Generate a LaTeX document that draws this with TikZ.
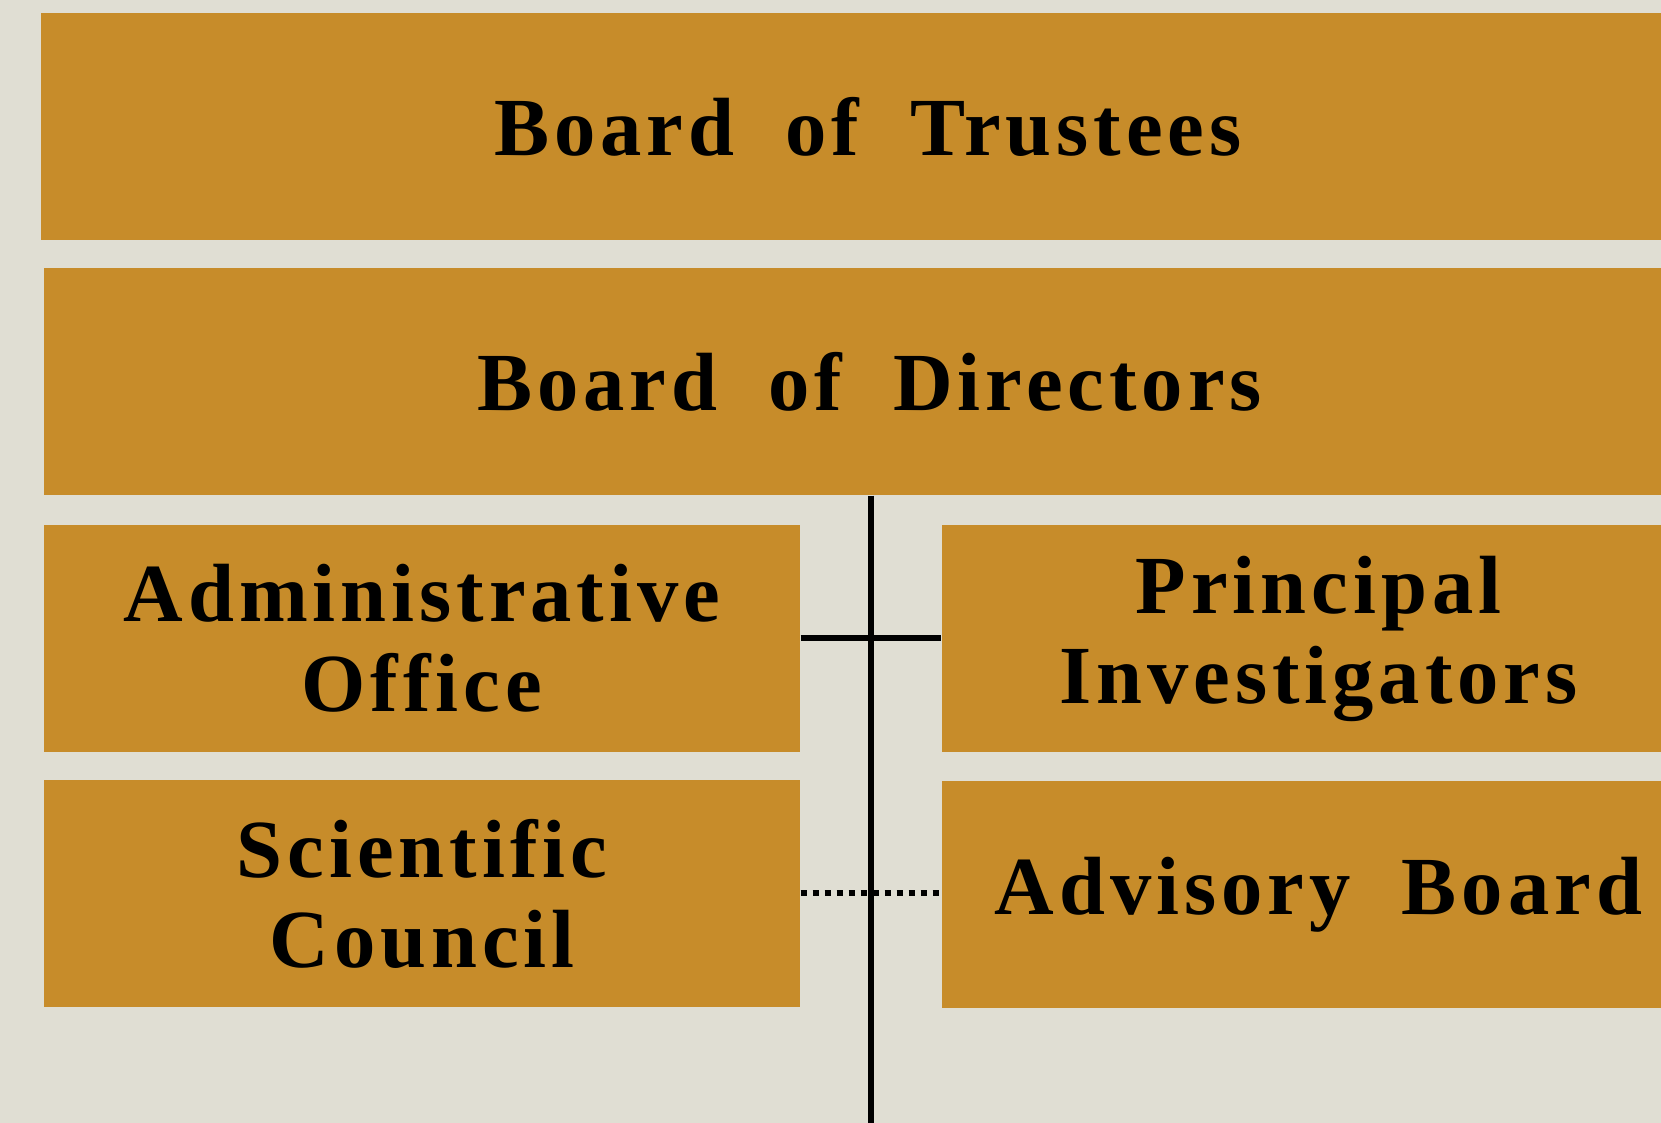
\documentclass[tikz,border=0pt]{standalone}
\usepackage{fontspec}
\setmainfont{Liberation Serif}[LetterSpace=6, WordSpace=2]
\usepackage{tikz}
\usetikzlibrary{positioning}
\definecolor{mgold}{RGB}{199, 140, 42}
\definecolor{mpaper}{RGB}{224, 222, 211}
\tikzset{unit/.style = {fill=mgold, inner sep=0pt, align=center,
                        minimum height=22.7mm,
                        font=\fontsize{23.5}{25.6}\selectfont\bfseries},
         link/.style = {line width=0.6mm}}

\begin{document}
\begin{tikzpicture}[x=0.1mm, y=-0.1mm]
      \fill [mpaper] (0, 0) rectangle (1661, 1123);
      \useasboundingbox (0, 0) rectangle (1661, 1123);
      \clip (0, 0) rectangle (1661, 1123);

      \node [unit, minimum width=165.4mm] (trustees) at (868, 126.5) {Board of Trustees};
      \node [unit, minimum width=165.1mm] (directors) at (869.5, 381.5) {Board of Directors};
      \node [unit, minimum width=75.6mm] (admin) at (422, 638.5) {Administrative\\Office};
      \node [unit, minimum width=75.3mm] (pis) at (1318.5, 638.5) {Principal\\Investigators};
      \node [unit, minimum width=75.6mm] (council) at (422, 893.5) {Scientific\\Council};
      \node [unit, minimum width=75.3mm] (advisory) at (1318.5, 894.5) {Advisory Board};

      \coordinate (spine) at (871, 1123);
      \draw [link] (directors.south -| spine) -- (spine);
      \draw [link] (admin.east) -- (pis.west);
      \draw [link, dash pattern=on 0.6mm off 0.6mm] (council.east) -- (council.east -| advisory.west);
    \end{tikzpicture}
\end{document}
